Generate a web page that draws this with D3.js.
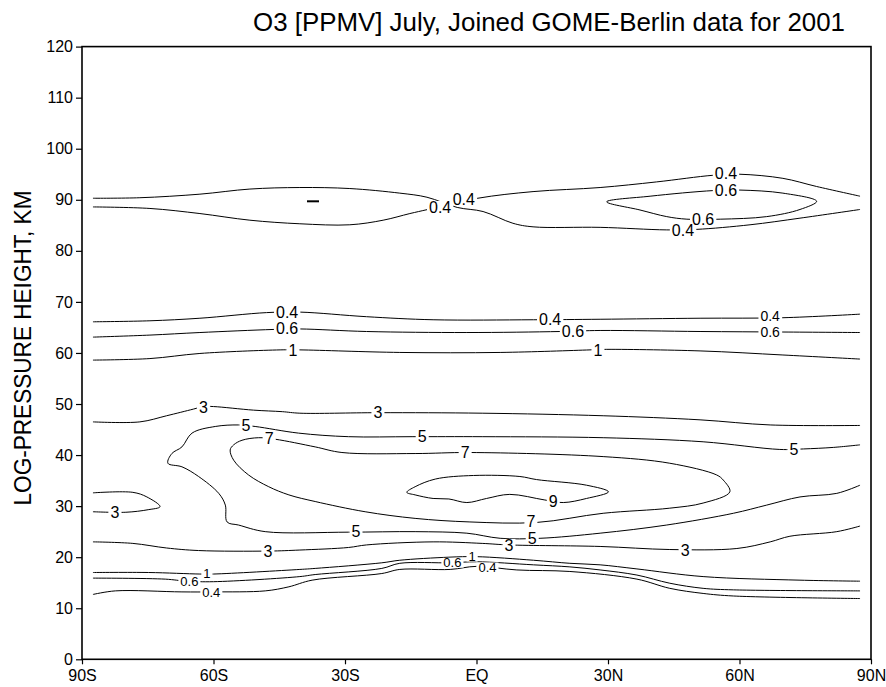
<!DOCTYPE html>
<html>
<head>
<meta charset="utf-8">
<script src="https://cdn.jsdelivr.net/npm/d3@7"></script>
<style>
  body { margin: 0; background: #fff; }
  svg text { font-family: "Liberation Sans", Arial, sans-serif; fill: #000; }
</style>
</head>
<body>
<div id="chart"></div>
<script>
// axis ticks
var latTicks = [-90, -60, -30, 0, 30, 60, 90];
var latLabels = ["90S", "60S", "30S", "EQ", "30N", "60N", "90N"];
var kmTicks = [0, 10, 20, 30, 40, 50, 60, 70, 80, 90, 100, 110, 120];

// contour lines: [latitude, height km]
var upper04a = [[-87.5,90.3],[-76.8,90.4],[-63.1,91.1],[-51.7,92.1],[-40.3,92.4],[-28.9,92.2],[-17.5,91.3],[-11.3,90.5],
  [-4.4,88.5],[1.5,87.7],[8.3,85.4],[12.9,84.7],[28.2,84.6],[43.4,84.1],[50.2,84.2],[62.4,85.1],[73.8,86.4],[87.5,88.1]];
var upper04b = [[-87.5,88.6],[-74.5,88.3],[-63.1,87.3],[-51.7,86.0],[-40.3,85.3],[-28.9,85.1],[-21.3,86.0],[-15.2,87.3],
  [-11.1,88.1],[0.3,90.3],[12.9,91.6],[28.2,92.4],[41.1,93.5],[54.0,94.8],[60.1,95.0],[69.9,94.2],[77.6,92.6],[87.5,90.7]];
var upper06 = [[29.7,89.6],[39.6,90.7],[54.0,91.8],[60.1,91.9],[69.9,91.3],[77.6,89.7],[73.8,88.1],[66.2,86.7],
  [55.6,86.2],[48.0,86.2],[43.4,86.7],[37.3,88.0]];
var mid04 = [[-87.5,66.1],[-74.5,66.3],[-63.1,66.8],[-47.9,67.9],[-40.3,68.0],[-25.1,67.1],[-9.9,66.5],[13.0,66.5],
  [28.2,66.6],[51.0,66.8],[69.9,66.9],[87.5,67.6]];
var mid06 = [[-87.5,63.1],[-74.5,63.5],[-63.1,64.0],[-46.4,64.6],[-40.3,64.7],[-25.1,64.2],[-2.2,64.0],[19.1,64.2],
  [28.2,64.4],[51.0,64.2],[69.9,64.1],[87.5,64.0]];
var mid1 = [[-87.5,58.6],[-74.5,58.9],[-63.1,59.9],[-44.8,60.6],[-40.3,60.6],[-17.5,60.1],[5.4,60.1],[25.9,60.6],
  [28.9,60.7],[51.0,60.4],[69.9,59.6],[87.5,58.8]];
var upper3 = [[-87.5,46.5],[-76.8,46.5],[-70.7,47.7],[-64.6,49.0],[-62.3,49.5],[-60.0,49.5],[-50.9,48.8],[-44.3,48.5],
  [-40.3,48.2],[-22.5,48.3],[1.3,48.2],[28.9,47.7],[51.0,46.9],[67.0,45.9],[87.5,45.8]];
var line5 = [[87.5,42.0],[81.4,41.5],[74.6,41.2],[69.2,41.1],[51.7,42.6],[28.9,43.4],[1.3,43.6],[-14.7,43.6],
  [-29.2,43.6],[-40.6,44.3],[-50.5,45.6],[-54.3,45.9],[-59.6,45.6],[-64.9,44.3],[-67.2,41.6],[-69.5,40.3],
  [-70.4,38.4],[-67.2,37.7],[-63.4,35.8],[-58.8,32.5],[-57.3,30.2],[-56.9,26.9],[-54.3,26.3],[-48.2,25.0],
  [-29.2,24.9],[-14.0,25.0],[-2.2,24.7],[5.4,23.7],[14.5,23.7],[28.2,24.7],[43.4,26.3],[58.6,28.6],
  [66.2,30.2],[73.8,31.8],[82.2,32.5],[87.5,34.1]];
var loop7 = [[-49.7,43.4],[-45.9,43.1],[-36.8,41.6],[-30.7,40.5],[-14.0,40.3],[-1.5,40.5],[28.9,39.7],[44.1,38.4],
  [54.8,36.1],[56.3,35.1],[57.8,32.8],[51.7,30.6],[44.1,29.6],[28.9,28.6],[13.7,26.8],[-1.5,26.9],[-14.0,27.6],
  [-25.4,28.9],[-36.8,30.9],[-42.8,32.2],[-47.4,33.8],[-52.0,36.1],[-55.4,39.0],[-56.2,41.0],[-55.4,42.0],[-53.5,42.9]];
var loop9 = [[-15.9,32.7],[-14.0,33.8],[-9.4,35.3],[-0.7,36.0],[9.9,35.8],[13.7,35.2],[25.1,34.1],[30.1,32.8],
  [25.1,31.5],[19.8,30.7],[15.6,31.2],[7.6,32.3],[2.3,31.5],[-2.2,30.7],[-6.3,31.4],[-9.9,31.5],[-14.0,32.2]];
var lobe3 = [[-87.5,32.6],[-78.4,32.7],[-75.2,31.8],[-72.2,29.9],[-74.9,29.3],[-80.0,28.8],[-87.5,28.9]];
var lower3 = [[-87.5,23.0],[-78.4,22.7],[-70.7,21.8],[-63.4,21.3],[-47.3,21.2],[-40.3,21.4],[-29.2,21.9],[-25.1,22.4],
  [-9.9,23.0],[1.3,22.7],[7.4,22.4],[28.2,22.1],[44.1,21.5],[59.4,21.7],[67.0,23.0],[71.5,24.1],[82.2,25.0],[87.5,26.1]];
var low1 = [[-87.5,17.0],[-74.8,17.0],[-63.1,16.7],[-60.0,16.7],[-40.3,17.6],[-36.8,17.8],[-21.6,18.9],[-17.5,19.4],
  [-6.3,20.0],[0,20.1],[13.0,19.4],[21.3,18.8],[28.2,18.5],[36.6,17.7],[51.7,16.2],[73.8,15.5],[87.5,15.3]];
var low06 = [[-87.5,15.9],[-71.0,15.7],[-66.1,15.3],[-60.0,15.2],[-40.3,16.2],[-36.8,16.6],[-21.6,17.8],[-17.5,18.8],
  [-6.0,18.9],[0,19.1],[13.0,18.5],[21.3,18.1],[28.2,17.5],[36.6,16.5],[44.1,14.9],[51.7,13.9],[58.6,13.6],[87.5,13.4]];
var low04 = [[-87.5,12.7],[-82.4,13.4],[-67.2,13.2],[-60.0,13.2],[-48.2,13.4],[-42.8,14.2],[-37.5,15.5],[-21.6,16.8],
  [-17.5,17.6],[-6.0,17.6],[0,18.2],[9.2,17.5],[21.3,17.2],[36.6,15.7],[44.1,13.9],[51.7,12.9],[58.6,12.4],[87.5,11.9]];

// contour labels: [latitude, height km, text]
var contourLabels = [
  [-8.3,88.6,"0.4"],[-2.9,90.2,"0.4"],[56.9,95.2,"0.4"],[47.1,84.0,"0.4"],
  [56.9,91.8,"0.6"],[51.7,86.2,"0.6"],
  [-43.2,68.0,"0.4"],[16.8,66.6,"0.4"],
  [-43.2,64.8,"0.6"],[22.0,64.3,"0.6"],
  [-41.9,60.6,"1"],[27.7,60.6,"1"],
  [-62.3,49.4,"3"],[-22.5,48.3,"3"],
  [-52.6,45.9,"5"],[-12.4,43.7,"5"],[72.4,41.1,"5"],[-27.5,25.1,"5"],[12.7,23.8,"5"],
  [-47.3,43.3,"7"],[-2.6,40.6,"7"],[12.4,27.1,"7"],
  [17.5,31.0,"9"],
  [-82.5,28.8,"3"],
  [-47.6,21.2,"3"],[7.4,22.4,"3"],[47.6,21.4,"3"]
];
// stacked pair near 60N
var stackedLabels = [[67.0,67.2,"0.4"],[67.0,64.1,"0.6"]];
// the tightly packed labels of the lowest three contours
var crowdedLabels = [
  [-61.5,16.8,"1"],[-65.5,15.2,"0.6"],[-60.5,13.2,"0.4"],
  [-1.0,20.1,"1"],[-5.5,18.9,"0.6"],[2.5,18.0,"0.4"]
];
var minMarks = [[-37.3, 89.7]];

var openLines = [upper04a, upper04b, mid04, mid06, mid1, upper3, line5, lobe3, lower3, low1, low06, low04];
var closedLines = [upper06, loop7, loop9];

var width = 886, height = 687;
var x = d3.scaleLinear().domain([-90, 90]).range([82, 871]);
var y = d3.scaleLinear().domain([0, 120]).range([659.3, 46.6]);

var svg = d3.select("#chart").append("svg")
    .attr("width", width)
    .attr("height", height);

var lineOpen = d3.line()
    .x(function(d) { return x(d[0]); })
    .y(function(d) { return y(d[1]); })
    .curve(d3.curveCatmullRom.alpha(0.5));

var lineClosed = d3.line()
    .x(function(d) { return x(d[0]); })
    .y(function(d) { return y(d[1]); })
    .curve(d3.curveCatmullRomClosed.alpha(0.5));

var plot = svg.append("g");

plot.selectAll(".open")
    .data(openLines)
    .enter().append("path")
    .attr("class", "open")
    .attr("d", lineOpen)
    .attr("fill", "none")
    .attr("stroke", "#000")
    .attr("stroke-width", 1);

plot.selectAll(".closed")
    .data(closedLines)
    .enter().append("path")
    .attr("class", "closed")
    .attr("d", lineClosed)
    .attr("fill", "none")
    .attr("stroke", "#000")
    .attr("stroke-width", 1);

plot.selectAll(".minmark")
    .data(minMarks)
    .enter().append("line")
    .attr("x1", function(d) { return x(d[0]) - 6; })
    .attr("x2", function(d) { return x(d[0]) + 6; })
    .attr("y1", function(d) { return y(d[1]); })
    .attr("y2", function(d) { return y(d[1]); })
    .attr("stroke", "#000")
    .attr("stroke-width", 2);

// labels break the lines: white boxes first, then all the text on top
var boxLayer = svg.append("g");
var textLayer = svg.append("g");

function addLabel(d, size) {
    var t = textLayer.append("text")
        .attr("x", x(d[0]))
        .attr("y", y(d[1]))
        .attr("dy", "0.36em")
        .attr("text-anchor", "middle")
        .attr("font-size", size)
        .text(d[2]);
    var b = t.node().getBBox();
    var h = size * 0.75;
    boxLayer.append("rect")
        .attr("x", b.x - 2)
        .attr("y", y(d[1]) - h / 2)
        .attr("width", b.width + 4)
        .attr("height", h)
        .attr("fill", "#fff");
}
contourLabels.forEach(function(d) { addLabel(d, 16); });
stackedLabels.forEach(function(d) { addLabel(d, 14); });
crowdedLabels.forEach(function(d) { addLabel(d, 13); });

// frame
svg.append("rect")
    .attr("x", x(-90))
    .attr("y", y(120))
    .attr("width", x(90) - x(-90))
    .attr("height", y(0) - y(120))
    .attr("fill", "none")
    .attr("stroke", "#000")
    .attr("stroke-width", 1.6);

// axes
var xAxis = d3.axisBottom(x)
    .tickValues(latTicks)
    .tickSize(5)
    .tickPadding(5)
    .tickFormat(function(d, i) { return latLabels[i]; });

var yAxis = d3.axisLeft(y)
    .tickValues(kmTicks)
    .tickSize(6)
    .tickPadding(3)
    .tickFormat(d3.format("d"));

var gx = svg.append("g")
    .attr("transform", "translate(0," + y(0) + ")")
    .call(xAxis);
var gy = svg.append("g")
    .attr("transform", "translate(" + x(-90) + ",0)")
    .call(yAxis);

[gx, gy].forEach(function(g) {
    g.select(".domain").remove();
    g.selectAll(".tick line").attr("stroke", "#000").attr("stroke-width", 1.2);
    g.selectAll(".tick text")
        .attr("font-size", 16)
        .style("font-family", "'Liberation Sans', Arial, sans-serif")
        .attr("fill", "#000");
});

// title
svg.append("text")
    .attr("x", 549)
    .attr("y", 31)
    .attr("text-anchor", "middle")
    .attr("font-size", 26)
    .attr("textLength", 592)
    .attr("lengthAdjust", "spacingAndGlyphs")
    .text("O3 [PPMV] July, Joined GOME-Berlin data for 2001");

// y title
svg.append("text")
    .attr("transform", "translate(31,348) rotate(-90)")
    .attr("text-anchor", "middle")
    .attr("font-size", 23)
    .attr("textLength", 315)
    .attr("lengthAdjust", "spacingAndGlyphs")
    .text("LOG-PRESSURE HEIGHT, KM");
</script>
</body>
</html>
